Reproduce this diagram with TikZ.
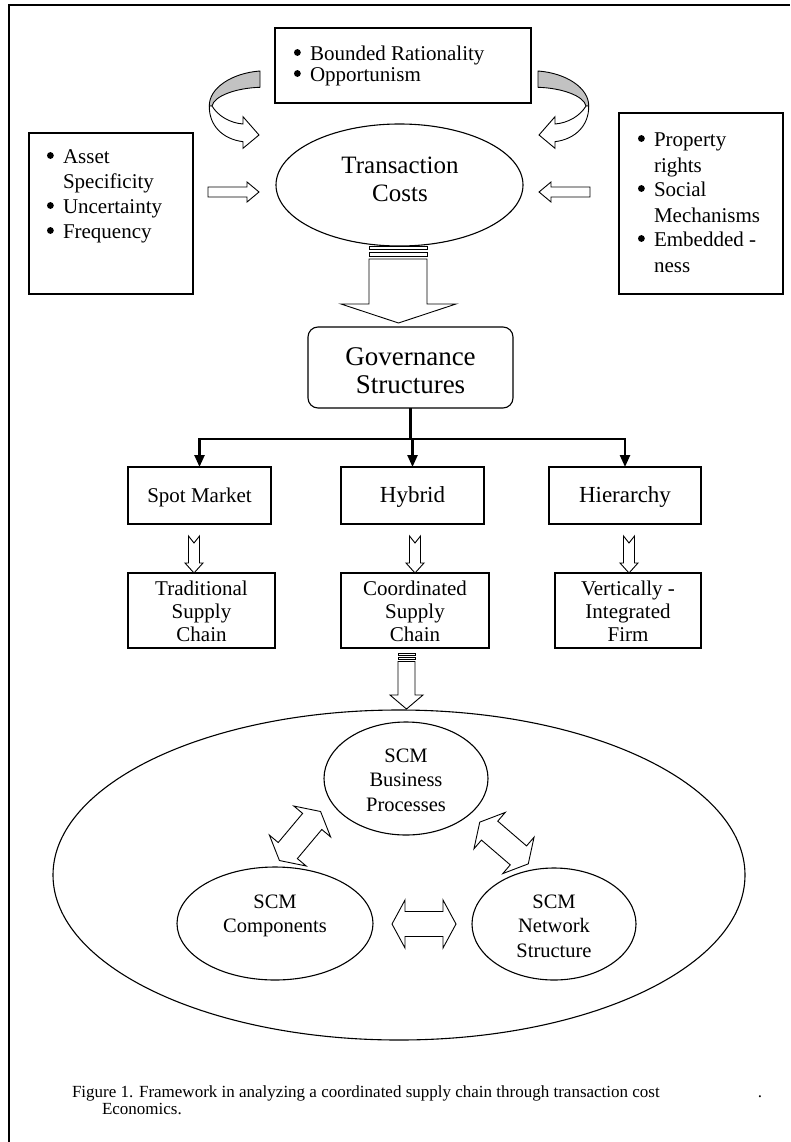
\documentclass[tikz,border=0pt]{standalone}
\usepackage{fontspec}
\setmainfont{Liberation Serif}
\usetikzlibrary{arrows.meta,shapes.geometric}

% round list bullet, centred 8.5pt above the baseline
\newcommand\bul{\makebox[16pt][l]{\tikz[baseline=-8.5pt]\fill (3.4pt,0pt) circle (3.4pt);}}
\newcommand\ind{\hspace*{16pt}}
\newcommand\stack[1]{\begin{tabular}[t]{@{}c@{}}#1\end{tabular}}
\newcommand\bullist[1]{\begin{tabular}[t]{@{}l@{}}#1\end{tabular}}
\newcommand\fs[2]{\fontsize{#1}{#2}\selectfont}

\begin{document}
\begin{tikzpicture}[x=1pt, y=-1pt,
  box/.style={draw, line width=1.1pt, rectangle, inner sep=0pt, outer sep=0pt},
  oval/.style={draw, line width=1.1pt, ellipse, inner sep=0pt, outer sep=0pt},
  blk/.style={draw, line width=0.9pt, fill=white, line join=miter},
  shade/.style={draw, line width=0.9pt, fill=black!24},
  tree/.style={line width=2.4pt, -{Triangle[length=12pt,width=10pt]}},
  txt/.style={anchor=base, inner sep=0pt, outer sep=0pt},
  ltxt/.style={anchor=base west, inner sep=0pt, outer sep=0pt},
  % hollow double-headed block arrow, centred on the origin
  dblarrow/.pic={
    \draw[blk] (-32,0) -- (-19,-24) -- (-19,-12.5) -- (19,-12.5) -- (19,-24)
      -- (32,0) -- (19,24) -- (19,12.5) -- (-19,12.5) -- (-19,24) -- cycle;},
  % hollow block arrow pointing right, tip at the origin
  rarrow/.pic={
    \draw[blk] (-51,-5) -- (-12,-5) -- (-12,-10) -- (0,0) -- (-12,10)
      -- (-12,5) -- (-51,5) -- cycle;},
  % small notched arrow pointing down, tip at the origin
  notchdown/.pic={
    \draw[blk] (-5.5,-37) -- (0,-30) -- (5.5,-37) -- (5.5,-10) -- (9,-10)
      -- (0,0) -- (-9,-10) -- (-5.5,-10) -- cycle;},
  % twisted curved arrow, tail upper right, head pointing right
  curvarrow/.pic={
    \draw[shade] (260,71) .. controls (232,73) and (209,88) .. (209.3,106)
      -- (212,106) .. controls (214,96) and (236,88) .. (260,87.3) -- cycle;
    \draw[blk] (212,106) .. controls (218,116) and (230,123) .. (243,124)
      -- (243,116.7) -- (259,135) -- (243,148.3) -- (243,141.7)
      .. controls (222,139) and (209,125) .. (209.3,106) -- cycle;}
]
\useasboundingbox (0,0) rectangle (790,1142);
\fill[white] (0,0) rectangle (790,1142);

% page frame (open to the right and bottom)
\draw[line width=2pt] (9,1142) -- (9,5) -- (790,5);

% ---- transaction cost drivers ----
\node[box, minimum width=256, minimum height=75] (human) at (403,65.5) {};
\node[ltxt, font=\fs{21}{21}] at (294,61)
  {\bullist{\bul Bounded Rationality\\ \bul Opportunism}};

\node[oval, minimum width=247, minimum height=122] (tc) at (399.5,185) {};
\node[txt, font=\fs{25}{28}] at (400,174) {\stack{Transaction\\ Costs}};

\node[box, minimum width=164, minimum height=161] (attr) at (111,213.5) {};
\node[ltxt, font=\fs{21}{25}] at (47,164)
  {\bullist{\bul Asset\\ \ind Specificity\\ \bul Uncertainty\\ \bul Frequency}};

\node[box, minimum width=164, minimum height=181] (social) at (701,203.5) {};
\node[ltxt, font=\fs{21}{25}] at (638,147)
  {\bullist{\bul Property\\ \ind rights\\ \bul Social\\ \ind Mechanisms\\
            \bul Embedded -\\ \ind ness}};

\pic at (0,0) {curvarrow};
\pic[xscale=-1] at (798,0) {curvarrow};
\pic at (259,192) {rarrow};
\pic[xscale=-1] at (539,192) {rarrow};

% striped arrow down to the governance structures
\draw[blk] (369,246.5) rectangle (427,249.5);
\draw[blk] (369,252.5) rectangle (427,256.5);
\draw[blk] (369,259) -- (427,259) -- (427,304) -- (456,304) -- (398.5,323)
  -- (341,304) -- (369,304) -- cycle;

% ---- governance ----
\node[box, rounded corners=10pt, minimum width=205, minimum height=81]
  (gov) at (410.5,367.5) {};
\node[txt, font=\fs{27}{28}] at (410.5,365) {\stack{Governance\\ Structures}};

\node[box, minimum width=143, minimum height=57] (spot) at (199.5,495.5) {};
\node[box, minimum width=143, minimum height=57] (hyb)  at (412.5,495.5) {};
\node[box, minimum width=152, minimum height=57] (hier) at (625,495.5) {};
\node[txt, font=\fs{21}{24}] at (199.5,502) {Spot Market};
\node[txt, font=\fs{23}{24}] at (412.5,502) {Hybrid};
\node[txt, font=\fs{23}{24}] at (625,502) {Hierarchy};

\coordinate (branch) at (410.5,439);
\draw[tree] (gov.south) -- (branch) -- (branch -| hyb.north) -- ++(0,28);
\draw[tree] (branch) -| (spot.north);
\draw[tree] (branch) -| (hier.north);

\node[box, minimum width=147, minimum height=75] (trad)  at (201.5,610.5) {};
\node[box, minimum width=148, minimum height=75] (coord) at (415,610.5) {};
\node[box, minimum width=146, minimum height=75] (vert)  at (628,610.5) {};
\node[txt, font=\fs{21}{23}] at (201.5,595) {\stack{Traditional\\ Supply\\ Chain}};
\node[txt, font=\fs{21}{23}] at (415,595) {\stack{Coordinated\\ Supply\\ Chain}};
\node[txt, font=\fs{21}{23}] at (628,595) {\stack{Vertically -\\ Integrated\\ Firm}};

\pic at (194,573) {notchdown};
\pic at (415,573) {notchdown};
\pic at (629,573) {notchdown};

% striped arrow into the supply chain management field
\draw[blk] (398,653) rectangle (415,655);
\draw[blk] (398,657) rectangle (415,659.5);
\draw[blk] (398,661.5) -- (415,661.5) -- (415,695) -- (423,695) -- (406.5,709)
  -- (390,695) -- (398,695) -- cycle;

% ---- supply chain management field ----
\node[oval, minimum width=692, minimum height=330] (scm) at (399,875) {};
\node[oval, minimum width=164, minimum height=113] (bus) at (406,778.5) {};
\node[oval, minimum width=196, minimum height=113] (comp) at (275,923.5) {};
\node[oval, minimum width=164, minimum height=112] (net) at (554,924) {};
\node[txt, font=\fs{20.5}{24.5}] at (406,762) {\stack{SCM\\ Business\\ Processes}};
\node[txt, font=\fs{20.5}{24.5}] at (275,908) {\stack{SCM\\ Components}};
\node[txt, font=\fs{20.5}{24.5}] at (554,908) {\stack{SCM\\ Network\\ Structure}};

\pic at (424,924) {dblarrow};
\pic[rotate=50] at (300,836) {dblarrow};
\pic[rotate=-40.7] at (504,843) {dblarrow};

% ---- caption ----
\node[ltxt, font=\fs{17}{17}] at (72,1097)
  {\makebox[690pt][l]{Figure 1. Framework in analyzing a coordinated supply chain through transaction cost\hfill.}};
\node[ltxt, font=\fs{17}{17}] at (102,1114) {Economics.};
\end{tikzpicture}
\end{document}
